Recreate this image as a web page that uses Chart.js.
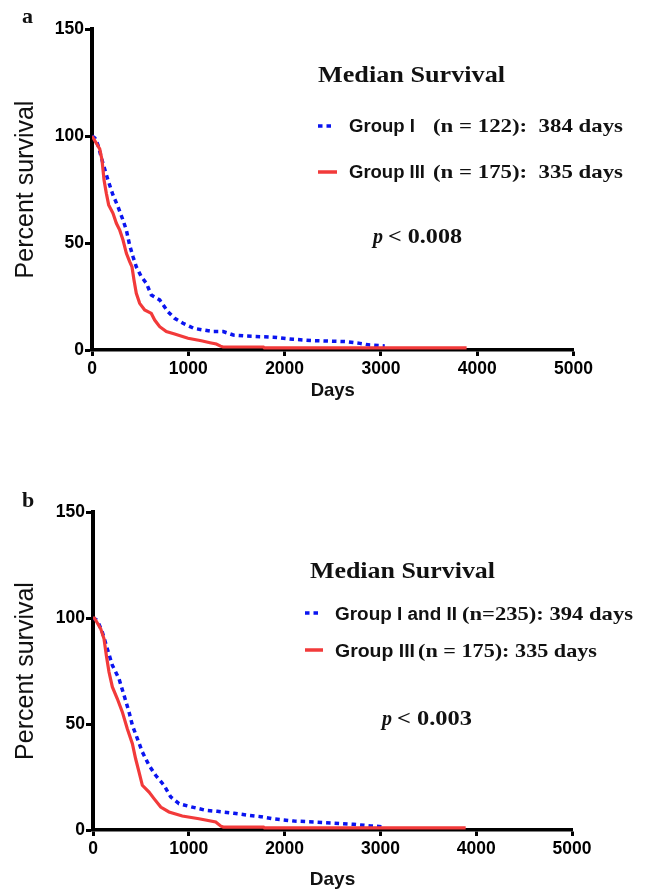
<!DOCTYPE html>
<html><head><meta charset="utf-8">
<script src="https://cdn.jsdelivr.net/npm/chart.js@4"></script>
<style>
html,body{margin:0;padding:0;background:#fff;width:646px;height:892px;overflow:hidden}
.wrap{position:absolute;left:0;width:646px;height:446px}
canvas{display:block}
</style></head><body>
<div class="wrap" style="top:0"><canvas id="ca" width="646" height="446"></canvas></div>
<div class="wrap" style="top:446px"><canvas id="cb" width="646" height="446"></canvas></div>
<script>
// ---- tick labels ----
const xTicks = [0, 1000, 2000, 3000, 4000, 5000];
const yTicks = [0, 50, 100, 150];

// ---- panel a: Group I (n=122) ----
const aGroupIDays = [0, 31, 62, 114, 166, 218, 270, 322, 357, 391, 426, 460, 512, 564, 616, 703, 789, 858, 945, 1059, 1163, 1257, 1363, 1467, 1606, 1882, 2090, 2297, 2645, 2783, 2887, 3040];
const aGroupISurv = [100, 99, 95.8, 87.2, 79.4, 72.4, 67, 60.7, 56, 49, 43.6, 38.9, 34.3, 31.2, 25.7, 23.4, 17.9, 14.8, 12.5, 10.1, 9.3, 8.6, 8.6, 7, 6.5, 6, 5, 4.4, 3.9, 3.1, 2.3, 1.9];
// ---- panel a: Group III (n=175) ----
const aGroupIIIDays = [0, 10, 80, 104, 125, 149, 173, 218, 253, 288, 322, 357, 391, 415, 436, 460, 495, 547, 616, 651, 703, 772, 858, 997, 1135, 1225, 1291, 1335, 1360, 1780, 1790, 3890];
const aGroupIIISurv = [100, 100, 94, 88.8, 79.4, 73.2, 67.8, 63.9, 59.2, 56, 51.4, 45.2, 41.3, 38.9, 32.7, 26.5, 21.8, 18.7, 17.1, 14, 10.9, 8.6, 7.5, 5.5, 4.3, 3.4, 2.8, 1.8, 1.4, 1.4, 1.0, 1.0];

// ---- panel b: Group I and II (n=235) ----
const bGroupI_IIDays = [0, 45, 97, 149, 202, 271, 324, 376, 411, 463, 515, 585, 654, 741, 811, 898, 1037, 1176, 1298, 1332, 1472, 1612, 1752, 1892, 2101, 2311, 2720, 2900, 3040];
const bGroupI_IISurv = [100, 98.9, 93.4, 85.5, 77.7, 71.4, 63.5, 55.7, 49.4, 43.1, 36.8, 30.5, 25.8, 21.1, 15.6, 12.4, 10.8, 9.3, 8.8, 8.6, 7.9, 7, 6.3, 5.2, 4.2, 3.8, 2.7, 1.9, 1.5];
// ---- panel b: Group III (n=175) ----
const bGroupIIIDays = [0, 15, 80, 115, 139, 167, 202, 254, 306, 358, 411, 445, 480, 515, 585, 637, 707, 793, 932, 1106, 1281, 1335, 1360, 1780, 1790, 3890];
const bGroupIIISurv = [100, 100, 95, 90.2, 82.4, 74.5, 67.5, 61.9, 55.7, 47.8, 40.7, 33.6, 27.4, 21.1, 17.9, 14.8, 10.8, 8.5, 6.6, 5.3, 3.8, 1.8, 1.4, 1.4, 1.0, 1.0];

const BLUE = '#0a14f0';
const RED = '#f23a3a';
const SANS = "'Liberation Sans', Arial, sans-serif";
const SERIF = "'Liberation Serif', 'Times New Roman', serif";

function pts(days, surv) { return days.map((d, i) => ({ x: d, y: surv[i] })); }

function drawText(ctx, t) {
  ctx.save();
  ctx.font = t.font;
  ctx.fillStyle = '#111';
  ctx.textAlign = 'left';
  ctx.textBaseline = 'alphabetic';
  const w = ctx.measureText(t.text).width;
  const sx = t.width ? t.width / w : 1;
  ctx.translate(t.x, t.y);
  ctx.scale(sx, 1);
  ctx.fillText(t.text, 0, 0);
  ctx.restore();
}

function annotPlugin(cfg) {
  return {
    id: 'annot',
    afterDraw(chart) {
      const ctx = chart.ctx;
      cfg.texts.forEach(t => drawText(ctx, t));
      cfg.samples.forEach(s => {
        ctx.save();
        ctx.strokeStyle = s.color;
        ctx.lineWidth = s.width;
        ctx.setLineDash(s.dash || []);
        ctx.beginPath();
        ctx.moveTo(s.x1, s.y);
        ctx.lineTo(s.x2, s.y);
        ctx.stroke();
        ctx.restore();
      });
    }
  };
}

function makeChart(id, blue, red, lay, annot) {
  return new Chart(document.getElementById(id), {
    type: 'line',
    data: {
      datasets: [
        { label: blue.label, data: pts(blue.days, blue.surv), borderColor: BLUE, borderWidth: 3.5,
          borderDash: [4.5, 4], pointRadius: 0, fill: false, tension: 0, order: 2 },
        { label: red.label, data: pts(red.days, red.surv), borderColor: RED, borderWidth: 3.2,
          pointRadius: 0, fill: false, tension: 0, order: 1 }
      ]
    },
    options: {
      responsive: false, animation: false, devicePixelRatio: 1,
      layout: { padding: lay.padding },
      plugins: { legend: { display: false }, tooltip: { enabled: false } },
      scales: {
        x: {
          type: 'linear', min: 0, max: 5000,
          afterBuildTicks: s => { s.ticks = xTicks.map(v => ({ value: v })); },
          afterFit: s => { s.height = lay.xHeight; },
          grid: { drawOnChartArea: false, drawTicks: true, tickLength: 6, tickWidth: 3, tickColor: '#000', color: '#000' },
          border: { display: true, color: '#000', width: 3.5 },
          ticks: { color: '#000', font: { family: SANS, size: 17.5, weight: 'bold' }, padding: 3, maxRotation: 0, autoSkip: false,
                   callback: v => String(v) },
          title: { display: true, text: 'Days', color: '#111', font: { family: SANS, size: lay.daysSize, weight: 'bold' },
                   padding: { top: 0, bottom: lay.daysPad } }
        },
        y: {
          type: 'linear', min: 0, max: 150,
          afterBuildTicks: s => { s.ticks = yTicks.map(v => ({ value: v })); },
          afterFit: s => { s.width = 92; },
          grid: { drawOnChartArea: false, drawTicks: true, tickLength: 7, tickWidth: 3, tickColor: '#000', color: '#000' },
          border: { display: true, color: '#000', width: 4 },
          ticks: { color: '#000', font: { family: SANS, size: 17.5, weight: 'bold' }, padding: 1, callback: v => String(v) },
          title: { display: true, text: 'Percent survival', color: '#111', font: { family: SANS, size: 25, weight: 'normal' },
                   padding: { top: lay.yTitlePad, bottom: 0 } }
        }
      }
    },
    plugins: [annotPlugin(annot)]
  });
}

makeChart('ca',
  { label: 'Group I', days: aGroupIDays, surv: aGroupISurv },
  { label: 'Group III', days: aGroupIIIDays, surv: aGroupIIISurv },
  { padding: { left: 0, top: 29, right: 72.5, bottom: 36 }, xHeight: 60, daysSize: 18.5, daysPad: 7.5, yTitlePad: 11 },
  {
    texts: [
      { text: 'a', x: 22, y: 23, font: `bold 22px ${SERIF}` },
      { text: 'Median Survival', x: 318, y: 82, font: `bold 24px ${SERIF}`, width: 187 },
      { text: 'Group I', x: 349, y: 132, font: `bold 18px ${SANS}`, width: 66 },
      { text: '(n = 122):  384 days', x: 433, y: 132, font: `bold 19px ${SERIF}`, width: 190 },
      { text: 'Group III', x: 349, y: 178, font: `bold 18px ${SANS}`, width: 76 },
      { text: '(n = 175):  335 days', x: 433, y: 178, font: `bold 19px ${SERIF}`, width: 190 },
      { text: 'p', x: 373, y: 243, font: `italic bold 20px ${SERIF}`, width: 10 },
      { text: '< 0.008', x: 388, y: 243, font: `bold 20px ${SERIF}`, width: 74 }
    ],
    samples: [
      { x1: 318, x2: 334, y: 126, color: BLUE, width: 3.5, dash: [4.5, 4] },
      { x1: 318, x2: 337, y: 172, color: RED, width: 3.5 }
    ]
  });

makeChart('cb',
  { label: 'Group I and II', days: bGroupI_IIDays, surv: bGroupI_IISurv },
  { label: 'Group III', days: bGroupIIIDays, surv: bGroupIIISurv },
  { padding: { left: 1, top: 66, right: 74, bottom: 0 }, xHeight: 62, daysSize: 19, daysPad: 0.6, yTitlePad: 10 },
  {
    texts: [
      { text: 'b', x: 22, y: 61, font: `bold 22px ${SERIF}` },
      { text: 'Median Survival', x: 310, y: 132, font: `bold 24px ${SERIF}`, width: 185 },
      { text: 'Group I and II', x: 335, y: 174, font: `bold 18px ${SANS}`, width: 122 },
      { text: '(n=235): 394 days', x: 462, y: 174, font: `bold 19px ${SERIF}`, width: 171 },
      { text: 'Group III', x: 335, y: 211, font: `bold 18px ${SANS}`, width: 80 },
      { text: '(n = 175): 335 days', x: 418, y: 211, font: `bold 19px ${SERIF}`, width: 179 },
      { text: 'p', x: 382, y: 279, font: `italic bold 20px ${SERIF}`, width: 10 },
      { text: '< 0.003', x: 397, y: 279, font: `bold 20px ${SERIF}`, width: 75 }
    ],
    samples: [
      { x1: 305, x2: 322, y: 167, color: BLUE, width: 3.5, dash: [4.5, 4] },
      { x1: 305, x2: 323, y: 204, color: RED, width: 3.5 }
    ]
  });
</script>
</body></html>
